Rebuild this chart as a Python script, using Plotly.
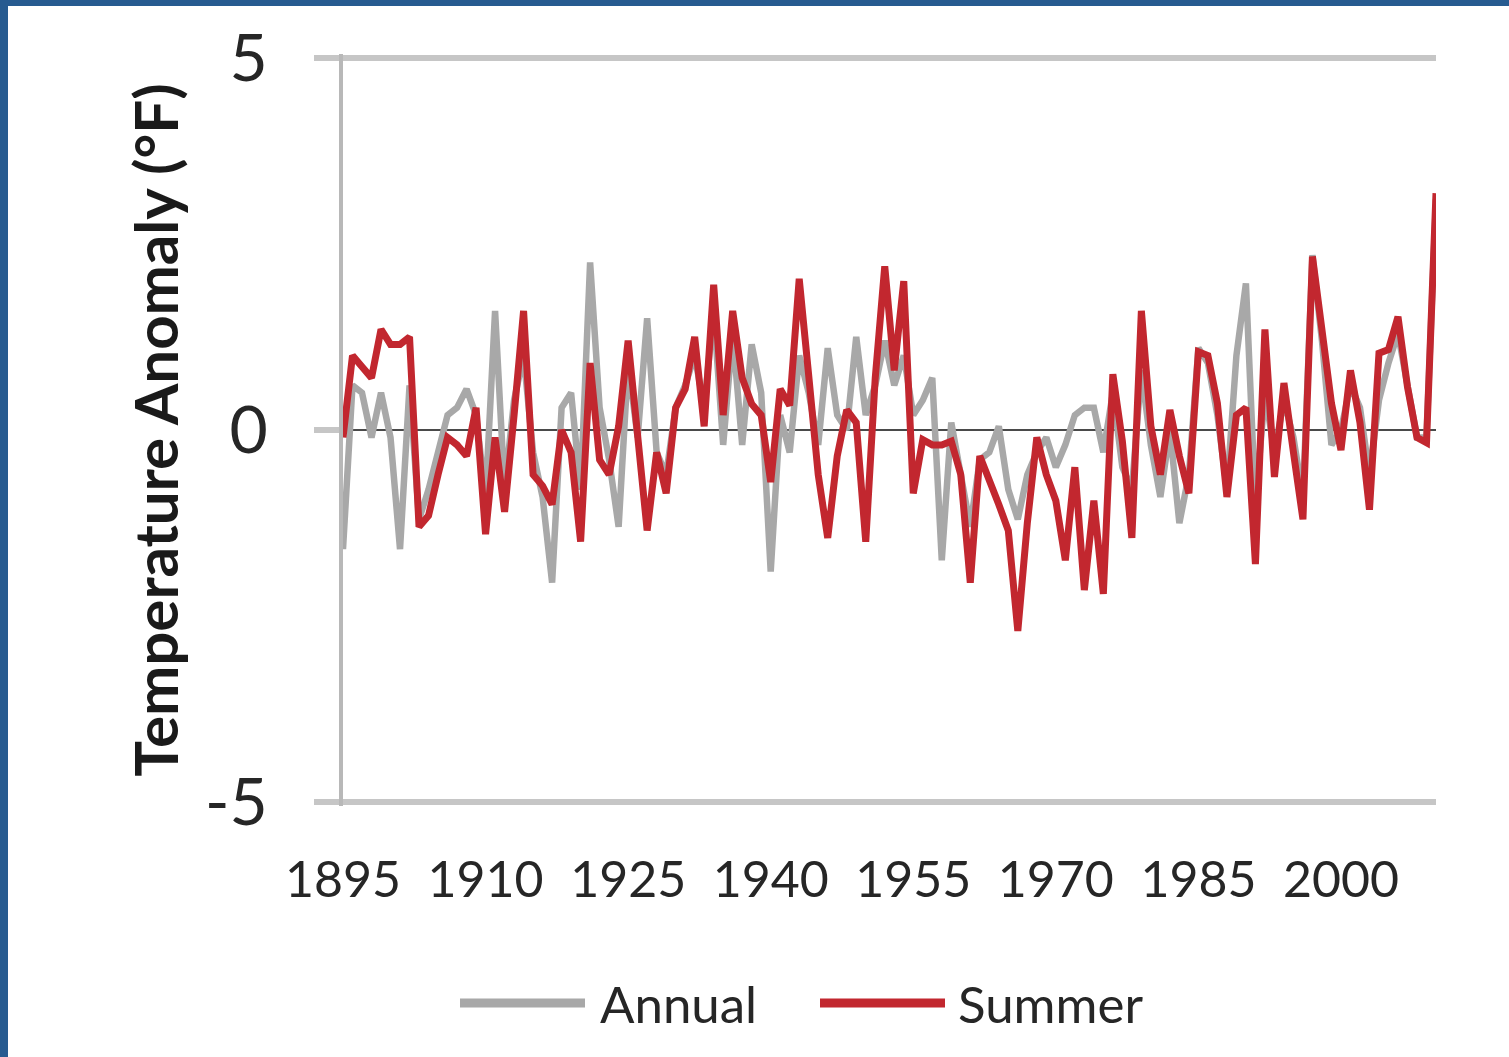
import plotly.graph_objects as go

# ---------------- data ----------------
years = list(range(1895, 2011))

summer = [
    -0.1, 1.0, 0.85, 0.7, 1.35,                       # 1895-1899
    1.15, 1.15, 1.25, -1.3, -1.15, -0.6, -0.1, -0.2, -0.35, 0.3,    # 1900s
    -1.4, -0.1, -1.1, 0.2, 1.6, -0.6, -0.75, -1.0, 0.0, -0.3,       # 1910s
    -1.5, 0.9, -0.4, -0.6, 0.05, 1.2, -0.1, -1.35, -0.3, -0.85,     # 1920s
    0.3, 0.55, 1.25, 0.05, 1.95, 0.2, 1.6, 0.7, 0.35, 0.2,          # 1930s
    -0.7, 0.55, 0.33, 2.03, 0.73, -0.6, -1.45, -0.35, 0.27, 0.1,    # 1940s
    -1.5, 0.7, 2.2, 0.8, 2.0, -0.85, -0.13, -0.2, -0.2, -0.15,      # 1950s
    -0.6, -2.05, -0.35, -0.65, -1.0, -1.35, -2.7, -1.25, -0.1, -0.6,  # 1960s
    -0.95, -1.75, -0.5, -2.15, -0.95, -2.2, 0.75, -0.15, -1.45, 1.6,  # 1970s
    0.05, -0.6, 0.27, -0.35, -0.85, 1.05, 1.0, 0.36, -0.9, 0.2,     # 1980s
    0.3, -1.8, 1.35, -0.63, 0.63, -0.3, -1.2, 2.33, 1.35, 0.36,     # 1990s
    -0.27, 0.8, 0.1, -1.07, 1.03, 1.08, 1.52, 0.58, -0.1, -0.17,    # 2000s
    3.18,                                                            # 2010
]

annual = [
    -1.6, 0.6, 0.5, -0.1, 0.5,                         # 1895-1899
    -0.1, -1.6, 0.6, -1.2, -0.8, -0.3, 0.2, 0.3, 0.55, 0.2,        # 1900s
    -0.9, 1.6, -0.8, 0.4, 1.0, -0.3, -0.9, -2.05, 0.3, 0.5,        # 1910s
    -0.8, 2.25, 0.3, -0.4, -1.3, 0.9, -0.1, 1.5, -0.3, -0.6,       # 1920s
    0.3, 0.6, 1.0, 0.3, 1.6, -0.2, 1.3, -0.2, 1.15, 0.5,           # 1930s
    -1.9, 0.2, -0.3, 1.0, 0.5, -0.2, 1.1, 0.2, 0.0, 1.25,          # 1940s
    0.2, 0.6, 1.2, 0.6, 1.0, 0.2, 0.4, 0.7, -1.75, 0.1,            # 1950s
    -0.6, -1.3, -0.4, -0.3, 0.05, -0.8, -1.2, -0.6, -0.3, -0.1,    # 1960s
    -0.5, -0.2, 0.2, 0.3, 0.3, -0.3, 0.5, -0.5, -0.8, 0.8,         # 1970s
    -0.2, -0.9, 0.0, -1.25, -0.6, 1.1, 0.9, 0.2, -0.8, 1.0,        # 1980s
    1.97, -1.0, 0.5, -0.3, 0.4, -0.1, -0.9, 2.35, 1.2, -0.2,       # 1990s
    0.0, 0.6, 0.3, -0.6, 0.4, 0.9, 1.3, 0.6, -0.1, -0.1,           # 2000s
    3.1,                                                            # 2010
]

x_tick_vals = list(range(1895, 2001, 15))
x_tick_text = [str(v) for v in x_tick_vals]
y_tick_vals = [-5, 0, 5]
y_tick_text = ["-5", "0", "5"]

series_names = ["Annual", "Summer"]
series_colors = ["#a8a8a8", "#c2272f"]

# ---------------- layout geometry ----------------
W_PX, H_PX = 1509, 1057
M_L, M_R, M_T, M_B = 343, 73, 54, 251
PLOT_W = W_PX - M_L - M_R
PLOT_H = H_PX - M_T - M_B


def px_x(px):
    return (px - M_L) / PLOT_W


def px_y(py):
    return (H_PX - M_B - py) / PLOT_H


FONT = "Lato, Carlito, 'Open Sans', sans-serif"
TEXT_COLOR = "#262626"
BLUE = "#275b90"

fig = go.Figure()
fig.add_trace(go.Scatter(x=years, y=annual, mode="lines", name=series_names[0],
                         line=dict(color=series_colors[0], width=6.5)))
fig.add_trace(go.Scatter(x=years, y=summer, mode="lines", name=series_names[1],
                         line=dict(color=series_colors[1], width=7)))

shapes = []
# blue frame along top and left edges of the picture
shapes.append(dict(type="rect", xref="paper", yref="paper",
                   x0=px_x(0), x1=px_x(W_PX), y0=px_y(6), y1=px_y(0),
                   fillcolor=BLUE, line=dict(width=0), layer="above"))
shapes.append(dict(type="rect", xref="paper", yref="paper",
                   x0=px_x(0), x1=px_x(8), y0=px_y(H_PX), y1=px_y(0),
                   fillcolor=BLUE, line=dict(width=0), layer="above"))

annotations = []
# custom legend (long line samples like the original)
legend_y = px_y(1003)
legend_items = [(460, 585, 598), (820, 945, 956)]
for (x0, x1, tx), name, col in zip(legend_items, series_names, series_colors):
    shapes.append(dict(type="line", xref="paper", yref="paper",
                       x0=px_x(x0), x1=px_x(x1), y0=legend_y, y1=legend_y,
                       line=dict(color=col, width=9)))
    annotations.append(dict(xref="paper", yref="paper", x=px_x(tx), y=legend_y,
                            text=name, showarrow=False, xanchor="left", yanchor="middle",
                            font=dict(family=FONT, size=51, color=TEXT_COLOR)))

fig.update_layout(
    width=W_PX, height=H_PX,
    margin=dict(l=M_L, r=M_R, t=M_T, b=M_B, autoexpand=False),
    paper_bgcolor="white", plot_bgcolor="white",
    showlegend=False,
    shapes=shapes, annotations=annotations,
    xaxis=dict(range=[1895, 2010], tickmode="array", tickvals=x_tick_vals, ticktext=x_tick_text,
               showgrid=False, zeroline=False, showline=False, ticks="",
               tickfont=dict(family=FONT, size=50, color=TEXT_COLOR),
               ticklabelstandoff=40),
    yaxis=dict(range=[-5.05, 5.05], tickmode="array", tickvals=y_tick_vals, ticktext=y_tick_text,
               showgrid=True, gridcolor="#c6c6c6", gridwidth=6,
               zeroline=True, zerolinecolor="#4a4a4a", zerolinewidth=2,
               showline=True, linecolor="#b8b8b8", linewidth=4,
               ticks="outside", ticklen=25, tickcolor="#c6c6c6", tickwidth=6,
               tickfont=dict(family=FONT, size=66, color=TEXT_COLOR),
               ticklabelstandoff=33,
               title=dict(text="Temperature Anomaly (°F)", standoff=8,
                          font=dict(family=FONT, size=60, color="#1a1a1a", weight="bold"))),
)

fig.write_html("out.html")
